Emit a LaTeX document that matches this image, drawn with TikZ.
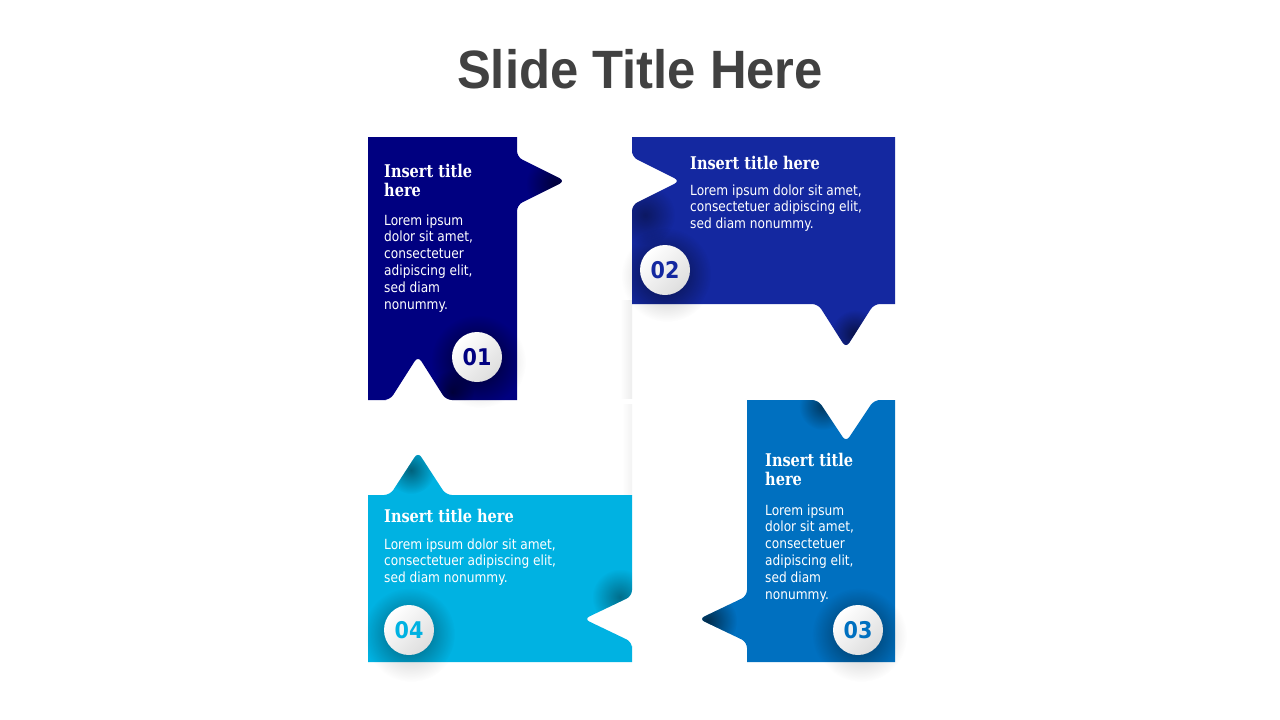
\documentclass[tikz,border=0pt]{standalone}
\usepackage{fontspec}
\setmainfont{DejaVu Sans}
\newfontfamily\bodyfont[FakeStretch=0.87]{DejaVu Sans}
\newfontfamily\cardfont[FakeStretch=0.83]{DejaVu Serif}
\newfontfamily\numfont[FakeStretch=0.9]{DejaVu Sans}
\newfontfamily\headfont[FakeStretch=0.94]{Liberation Sans}
\usetikzlibrary{fadings}
\definecolor{cA}{HTML}{000080}
\definecolor{cB}{HTML}{1428A0}
\definecolor{cC}{HTML}{0070C0}
\definecolor{cD}{HTML}{00B2E2}
\definecolor{titlegray}{HTML}{414141}
\tikzfading[name=myglow, inner color=transparent!0, outer color=transparent!100]
\tikzfading[name=myvfade, top color=transparent!100, bottom color=transparent!100, middle color=transparent!0]
\newcommand\myglow[4]{\fill[black,opacity=#4,path fading=myglow] (#1,#2) circle (#3);}
\def\shapeA{(368,137) -- (517,137) -- (517,147) [rounded corners=6pt] -- (517,157) -- (565,181) -- (517,205) -- (517,215) [sharp corners] -- (517,400) -- (456,400) [rounded corners=6pt] -- (446,400) -- (418,356) -- (390,400) -- (380,400) [sharp corners] -- (368,400) -- cycle}
\def\shapeB{(632,137) -- (895,137) -- (895,304) -- (884,304) [rounded corners=6pt] -- (874,304) -- (846,348) -- (818,304) -- (808,304) [sharp corners] -- (632,304) -- (632,215) [rounded corners=6pt] -- (632,205) -- (680,181) -- (632,157) -- (632,147) [sharp corners] -- cycle}
\def\shapeC{(747,400) -- (808,400) [rounded corners=6pt] -- (818,400) -- (846,442) -- (874,400) -- (884,400) [sharp corners] -- (895,400) -- (895,662) -- (747,662) -- (747,652) [rounded corners=6pt] -- (747,642) -- (699,619) -- (747,596) -- (747,586) [sharp corners] -- cycle}
\def\shapeD{(368,495) -- (380,495) [rounded corners=6pt] -- (390,495) -- (418,452) -- (446,495) -- (456,495) [sharp corners] -- (632,495) -- (632,586) [rounded corners=6pt] -- (632,596) -- (584,619) -- (632,642) -- (632,652) [sharp corners] -- (632,662) -- (368,662) -- cycle}
\begin{document}
\begin{tikzpicture}[x=1pt,y=-1pt,
  numdisc/.style={circle, minimum size=50pt, inner sep=0pt, top color=white, bottom color=black!13, shading angle=45, font=\numfont\bfseries\fontsize{23}{23}\selectfont},
  cardtitle/.style={anchor=base west, inner sep=0pt, text=white, font=\cardfont\bfseries\fontsize{17.5}{19}\selectfont},
  bodytext/.style={anchor=base west, inner sep=0pt, text=white, font=\bodyfont\fontsize{14}{16.8}\selectfont}]
\useasboundingbox (0,0) rectangle (1280,720);
\fill[white] (0,0) rectangle (1280,720);
% soft shadows on white
\shade[left color=white, right color=black!7] (620,300) rectangle (632,398);
\shade[left color=white, right color=black!5] (622,404) rectangle (632,495);
\myglow{480}{362}{46}{0.25}
\myglow{667}{276}{46}{0.28}
\myglow{861}{636}{46}{0.25}
\myglow{411}{636}{46}{0.25}
% shapes
\fill[cA] \shapeA;
\fill[cB] \shapeB;
\fill[cC] \shapeC;
\fill[cD] \shapeD;
% inner shading
\begin{scope}
\clip \shapeA;
\myglow{556}{184}{30}{0.55}
\myglow{452}{392}{22}{0.5}
\myglow{477}{361}{46}{0.7}
\end{scope}
\begin{scope}
\clip \shapeB;
\myglow{645}{215}{30}{0.38}
\myglow{855}{334}{24}{0.55}
\myglow{665}{274}{46}{0.6}
\end{scope}
\begin{scope}
\clip \shapeC;
\myglow{823}{406}{24}{0.5}
\myglow{707}{621}{30}{0.6}
\myglow{858}{634}{46}{0.55}
\end{scope}
\begin{scope}
\clip \shapeD;
\myglow{411}{470}{24}{0.45}
\myglow{620}{597}{28}{0.38}
\myglow{409}{634}{46}{0.5}
\end{scope}
% title
\node[font=\headfont\bfseries\fontsize{54}{60}\selectfont, text=titlegray, anchor=base, inner sep=0pt] (title) at (640,88) {Slide Title Here};
% texts
\node[cardtitle] (t1) at (384,177) {\begin{tabular}[t]{@{}l@{}}Insert title\\here\end{tabular}};
\node[bodytext] (b1) at (384,225) {\begin{tabular}[t]{@{}l@{}}Lorem ipsum\\dolor sit amet,\\consectetuer\\adipiscing elit,\\sed diam\\nonummy.\end{tabular}};
\node[cardtitle] (t2) at (690,169) {Insert title here};
\node[bodytext] (b2) at (690,195) {\begin{tabular}[t]{@{}l@{}}Lorem ipsum dolor sit amet,\\consectetuer adipiscing elit,\\sed diam nonummy.\end{tabular}};
\node[cardtitle] (t3) at (765,466) {\begin{tabular}[t]{@{}l@{}}Insert title\\here\end{tabular}};
\node[bodytext] (b3) at (765,515) {\begin{tabular}[t]{@{}l@{}}Lorem ipsum\\dolor sit amet,\\consectetuer\\adipiscing elit,\\sed diam\\nonummy.\end{tabular}};
\node[cardtitle] (t4) at (384,522) {Insert title here};
\node[bodytext] (b4) at (384,549) {\begin{tabular}[t]{@{}l@{}}Lorem ipsum dolor sit amet,\\consectetuer adipiscing elit,\\sed diam nonummy.\end{tabular}};
% numbered discs
\node[numdisc, text=cA] (n1) at (477,357) {01};
\node[numdisc, text=cB] (n2) at (665,270) {02};
\node[numdisc, text=cC] (n3) at (858,630) {03};
\node[numdisc, text=cD] (n4) at (409,630) {04};
\end{tikzpicture}
\end{document}
